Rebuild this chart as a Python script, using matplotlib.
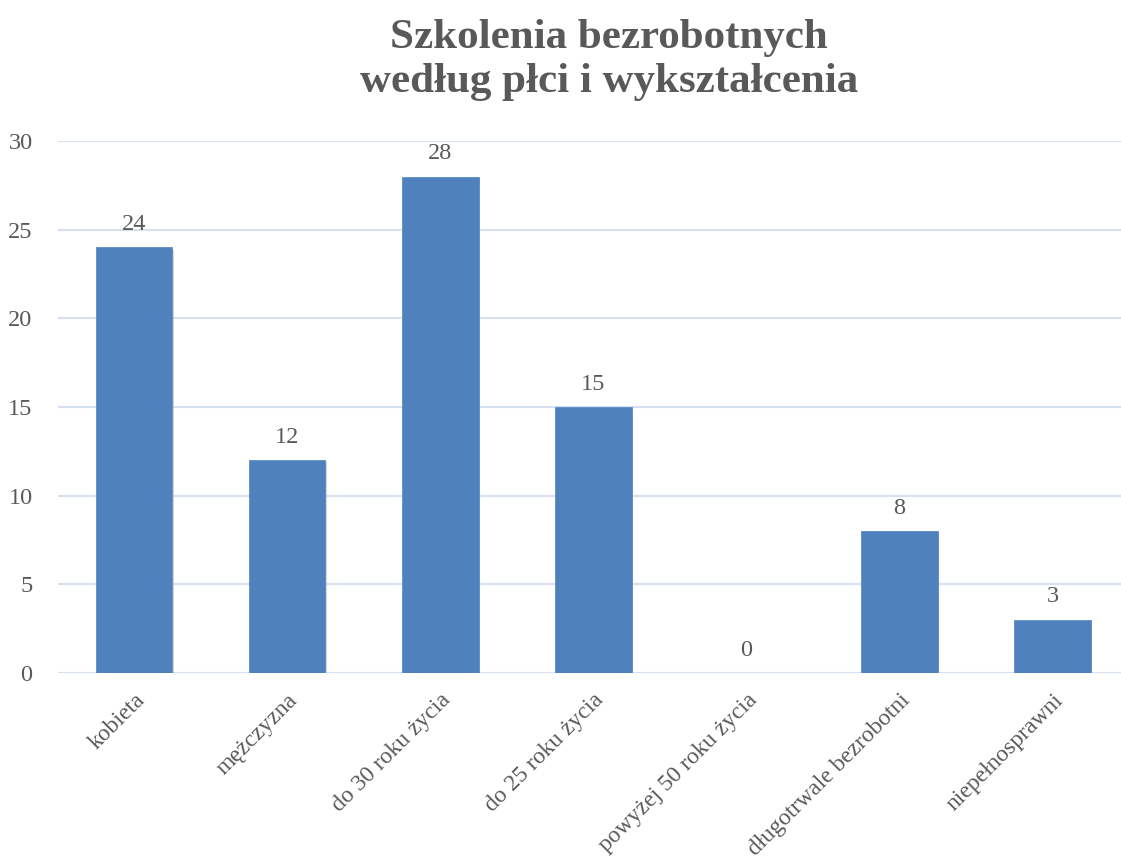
import matplotlib.pyplot as plt
import matplotlib.patheffects as pe

categories = ['kobieta', 'mężczyzna', 'do 30 roku życia', 'do 25 roku życia',
              'powyżej 50 roku życia', 'długotrwale bezrobotni', 'niepełnosprawni']
values = [24, 12, 28, 15, 0, 8, 3]
yticks = [0, 5, 10, 15, 20, 25, 30]

plt.rcParams['font.family'] = ['Liberation Serif', 'DejaVu Serif']
txt = '#595959'

fig = plt.figure(figsize=(11.21, 8.6), dpi=100)
ax = fig.add_axes([0.0513, 0.2174, 0.956, 0.6186])

bars = ax.bar(range(len(values)), values, width=0.5, color='#4F81BD', zorder=3,
              edgecolor='#5B8CC8', linewidth=0.6)
for b in bars:
    b.set_path_effects([pe.SimplePatchShadow(offset=(1, -1.5), shadow_rgbFace='#a0a0a0', alpha=0.45),
                        pe.Normal()])

for i, v in enumerate(values):
    ax.text(i, v + 0.7, str(v), ha='center', va='bottom', fontsize=17.5, color=txt)

ax.set_xlim(-0.5, len(values) - 0.5)
ax.set_ylim(0, 30)
ax.set_yticks(yticks)
ax.set_yticklabels([str(t) for t in yticks], fontsize=17.5, color=txt)
ax.yaxis.grid(True, color='#D6E0F0', linewidth=1.5, zorder=0)
ax.set_axisbelow(True)
ax.tick_params(axis='both', length=0)
ax.tick_params(axis='y', pad=18)
ax.set_xticks(range(len(values)))
ax.set_xticklabels(categories, rotation=45, ha='right', rotation_mode='anchor',
                   fontsize=17, color=txt)
ax.tick_params(axis='x', pad=12)
for s in ax.spines.values():
    s.set_visible(False)

fig.text(0.543, 0.978, 'Szkolenia bezrobotnych\nwedług płci i wykształcenia', ha='center', va='top',
         fontsize=31, fontweight='bold', color=txt, linespacing=1.2)

fig.savefig('out.png', dpi=100)
